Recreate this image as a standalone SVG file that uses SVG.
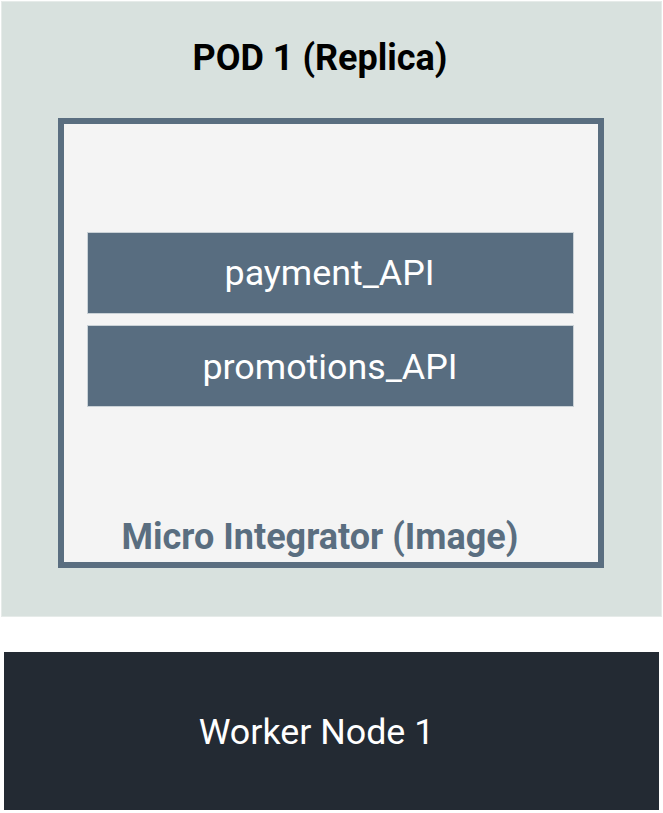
<svg xmlns="http://www.w3.org/2000/svg" width="663" height="813" viewBox="0 0 663 813">
<style>
.t{font-family:Roboto,"Liberation Sans",sans-serif;text-anchor:middle}
.w{fill:#ffffff;font-size:35.8px}
.b{font-weight:bold;font-size:36px}
.bar{fill:#586d80;stroke:#c9d1d6;stroke-width:1}
</style>
<rect width="663" height="813" fill="#ffffff"/>
<g id="pod">
<rect x="1.5" y="1.5" width="660" height="615" fill="#d8e1de" stroke="#e6ebe9" stroke-width="1"/>
<text class="t b" x="320" y="70" fill="#000000">POD 1 (Replica)</text>
</g>
<g id="micro-integrator">
<rect x="61" y="121" width="540" height="444" fill="#f4f4f4" stroke="#5a6e80" stroke-width="6"/>
<text class="t b" x="320" y="549" fill="#5a6e80">Micro Integrator (Image)</text>
</g>
<g id="payment-api">
<rect class="bar" x="87.5" y="232.5" width="486" height="81"/>
<text class="t w" x="329.5" y="285">payment_API</text>
</g>
<g id="promotions-api">
<rect class="bar" x="87.5" y="325.5" width="486" height="81"/>
<text class="t w" x="330" y="379">promotions_API</text>
</g>
<g id="worker-node">
<rect x="4" y="652" width="655" height="158" fill="#232a33"/>
<text class="t w" x="316.5" y="743.5">Worker Node 1</text>
</g>
<g id="connectors"/>
</svg>
